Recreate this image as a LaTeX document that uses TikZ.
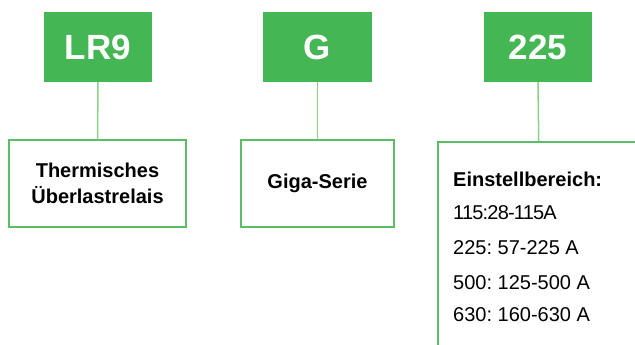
\documentclass[tikz,border=0pt]{standalone}
\usepackage{fontspec}
\setmainfont{Liberation Sans}
\definecolor{codegreen}{RGB}{69,182,84}
\definecolor{boxgreen}{RGB}{92,190,100}
\definecolor{linegreen}{RGB}{140,208,140}
\begin{document}
\frenchspacing
\begin{tikzpicture}[x=1pt,y=-1pt,
  codebox/.style={fill=codegreen,draw=none,inner sep=0pt,minimum width=108pt,minimum height=70pt,
    text=white,font=\bfseries\fontsize{35}{40}\selectfont},
  descbox/.style={draw=boxgreen,line width=1.5pt,fill=white,inner sep=0pt,minimum height=87pt,
    align=center,font=\bfseries\fontsize{20}{26}\selectfont},
  link/.style={draw=linegreen,line width=1.5pt},
  listtext/.style={anchor=base west,inner sep=0pt,font=\fontsize{20}{24}\selectfont}]
\useasboundingbox (0,0) rectangle (635,345);
\clip (0,0) rectangle (635,345);
\node[codebox] (lr9) at (98,47) {LR9};
\node[codebox,minimum width=109pt] (g) at (317.5,47) {G};
\node[codebox] (n225) at (538,47) {225};
\node[descbox,minimum width=177pt] (d1) at (97.5,183.5) {Thermisches\\Überlastrelais};
\node[descbox,minimum width=153pt] (d2) at (317.5,183.5) {Giga-Serie};
\node[draw=boxgreen,line width=1.5pt,inner sep=0pt,minimum width=202pt,minimum height=230pt,anchor=north west] (d3) at (437,141) {};
\draw[link] (lr9.south) -- (d1.north);
\draw[link] (g.south) -- (d2.north);
\draw[link] (n225.south) -- (d3.north);
\node[listtext,font=\bfseries\fontsize{20}{24}\selectfont] (t0) at (453,186) {Einstellbereich:};
\node[listtext] (t1) at (453,219) {\addfontfeatures{LetterSpace=-4}115:28-115A};
\node[listtext] (t2) at (453,254) {225: 57-225 A};
\node[listtext] (t3) at (453,289) {500: 125-500 A};
\node[listtext] (t4) at (453,321) {630: 160-630 A};
\end{tikzpicture}
\end{document}
